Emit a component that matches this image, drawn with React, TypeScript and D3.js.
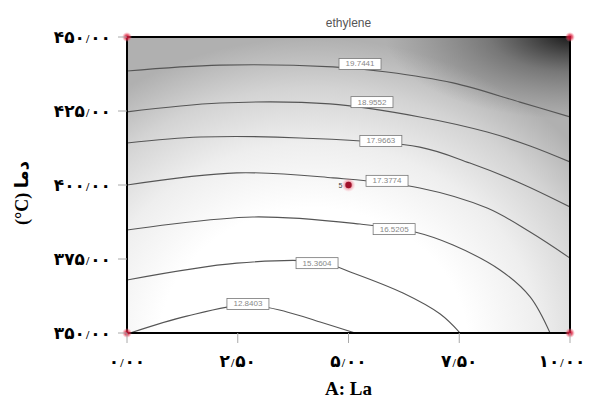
import React from "react";
import * as d3 from "d3";

const title = "ethylene";
const xTicks = [0, 2.5, 5, 7.5, 10];
const yTicks = [350, 375, 400, 425, 450];
const xTitle = "A: La";
const yTitle = "(°C) دما";

// contour lines (La, temperature)
const contour1 = [[0, 438.5], [2.1, 440.5], [4.65, 439.9], [5.87, 438.2], [7.36, 434.5], [8.87, 428.0], [10, 423.0]];
const contour2 = [[0, 424.7], [2.1, 427.7], [4.58, 427.4], [6.61, 423.0], [8.13, 417.9], [9.1, 413.2], [10, 407.8]];
const contour3 = [[0, 414.2], [1.65, 416.2], [3.91, 415.9], [6.61, 412.8], [7.74, 407.4], [8.87, 400.7], [10, 392.6]];
const contour4 = [[0, 400.0], [2.48, 404.1], [4.65, 402.4], [6.61, 399.0], [8.13, 392.2], [9.1, 384.1], [10, 375.3]];
const contour5 = [[0, 384.8], [2.84, 389.2], [5.26, 386.8], [6.5, 384.1], [7.36, 379.7], [8.42, 371.3], [9.1, 362.2], [9.55, 350]];
const contour6 = [[0, 367.9], [2.48, 373.6], [4.36, 374.0], [5.1, 370.3], [6.23, 363.5], [7.07, 356.4], [7.52, 350]];
const contour7 = [[0.07, 350], [1.35, 355.7], [2.73, 359.5], [3.61, 357.1], [4.36, 353.7], [5.15, 350]];
const contours = [contour1, contour2, contour3, contour4, contour5, contour6, contour7];

const contourLabels = ["19.7441", "18.9552", "17.9663", "17.3774", "16.5205", "15.3604", "12.8403"];
const labelLa = [5.26, 5.53, 5.73, 5.87, 6.03, 4.29, 2.73];
const labelT = [440.9, 428.0, 414.9, 401.4, 385.1, 373.6, 359.8];

const designLa = [0, 10, 0, 10];
const designT = [450, 450, 350, 350];
const centerPoint = [5, 400];
const centerReps = "5";

const W = 595, H = 403;
const L = 127, R = 570, T = 37, B = 333;

const faDigits = (s: string) => s.replace(/[0-9]/g, (d) => "۰۱۲۳۴۵۶۷۸۹"[+d]);

function FaNum({ v }: { v: number }) {
  const [a, b] = v.toFixed(2).split(".");
  return (
    <>
      <tspan>{faDigits(a)}</tspan>
      <tspan fontSize={12} dx={1} dy={2}>/</tspan>
      <tspan dx={1} dy={-2}>{faDigits(b)}</tspan>
    </>
  );
}

export default function App() {
  const x = d3.scaleLinear().domain([0, 10]).range([L, R]);
  const y = d3.scaleLinear().domain([350, 450]).range([B, T]);
  const line = d3
    .line<number[]>()
    .x((d) => x(d[0]))
    .y((d) => y(d[1]))
    .curve(d3.curveCatmullRom.alpha(0.5));

  const font = "'Times New Roman', 'Liberation Serif', 'DejaVu Serif', 'DejaVu Sans', serif";

  return (
    <svg width={W} height={H} style={{ position: "absolute", left: 0, top: 0, background: "#fff" }}>
      <defs>
        <radialGradient id="base" cx="0.5" cy="0.5" r="0.5">
          <stop offset="0" stopColor="#ffffff" />
          <stop offset="0.45" stopColor="#ffffff" />
          <stop offset="0.66" stopColor="#eeeeee" />
          <stop offset="0.84" stopColor="#d3d3d3" />
          <stop offset="1" stopColor="#b0b0b0" />
        </radialGradient>
        <radialGradient id="dark" cx="0.5" cy="0.5" r="0.5">
          <stop offset="0" stopColor="#000" stopOpacity="0.9" />
          <stop offset="0.45" stopColor="#222" stopOpacity="0.4" />
          <stop offset="1" stopColor="#444" stopOpacity="0" />
        </radialGradient>
        <radialGradient id="redglow" cx="0.5" cy="0.5" r="0.5">
          <stop offset="0" stopColor="#c0002a" stopOpacity="1" />
          <stop offset="0.5" stopColor="#e0304a" stopOpacity="0.7" />
          <stop offset="1" stopColor="#ff8090" stopOpacity="0" />
        </radialGradient>
        <clipPath id="plot">
          <rect x={L} y={T} width={R - L} height={B - T} />
        </clipPath>
      </defs>

      <g clipPath="url(#plot)">
        <rect x={L} y={T} width={R - L} height={B - T} fill="#b0b0b0" />
        <ellipse cx={x(4.2)} cy={y(345)} rx={345} ry={310} fill="url(#base)" />
        <ellipse cx={x(10.1)} cy={y(451)} rx={190} ry={85} fill="url(#dark)" />
        {contours.map((c, i) => (
          <path key={i} d={line(c as any) || ""} fill="none" stroke="#555" strokeWidth={1.1} />
        ))}
        {contourLabels.map((t, i) => (
          <g key={i} transform={`translate(${x(labelLa[i])},${y(labelT[i])})`}>
            <rect x={-21} y={-5.5} width={42} height={11} fill="#fff" stroke="#777" strokeWidth={0.8} />
            <text
              textAnchor="middle"
              dominantBaseline="central"
              fontSize={8}
              fill="#888"
              fontFamily="Arial, 'Liberation Sans', sans-serif"
            >
              {t}
            </text>
          </g>
        ))}
        <circle cx={x(centerPoint[0])} cy={y(centerPoint[1])} r={7} fill="url(#redglow)" opacity={0.6} />
        <circle cx={x(centerPoint[0])} cy={y(centerPoint[1])} r={3.2} fill="#a0102a" />
        <text
          x={x(centerPoint[0]) - 6}
          y={y(centerPoint[1])}
          textAnchor="end"
          dominantBaseline="central"
          fontSize={7}
          fill="#444"
          fontFamily="Arial, sans-serif"
        >
          {centerReps}
        </text>
      </g>

      {/* frame */}
      <rect x={L} y={T} width={R - L} height={B - T} fill="none" stroke="#000" strokeWidth={2} />

      {/* design points */}
      {designLa.map((v, i) => (
        <circle key={i} cx={x(v)} cy={y(designT[i])} r={5} fill="url(#redglow)" />
      ))}

      {/* y ticks */}
      {yTicks.map((v) => (
        <g key={v}>
          <line x1={L - 9} x2={L} y1={y(v)} y2={y(v)} stroke="#aaa" strokeWidth={1} />
          <text
            x={111}
            y={y(v)}
            textAnchor="end"
            dominantBaseline="central"
            fontSize={17}
            fontWeight="bold"
            fontFamily={font}
            fill="#000"
          >
            <FaNum v={v} />
          </text>
        </g>
      ))}

      {/* x ticks */}
      {xTicks.map((v) => (
        <g key={v}>
          <line x1={x(v)} x2={x(v)} y1={B} y2={B + 10} stroke="#aaa" strokeWidth={1} />
          <text
            x={v === 10 ? x(v) - 8 : x(v)}
            y={361}
            textAnchor="middle"
            dominantBaseline="central"
            fontSize={17}
            fontWeight="bold"
            fontFamily={font}
            fill="#000"
          >
            <FaNum v={v} />
          </text>
        </g>
      ))}

      <text
        x={(L + R) / 2}
        y={T - 10}
        textAnchor="middle"
        fontSize={12}
        fill="#555"
        fontFamily="Arial, 'Liberation Sans', sans-serif"
      >
        {title}
      </text>

      <text
        x={x(5)}
        y={388}
        textAnchor="middle"
        dominantBaseline="central"
        fontSize={19}
        fontWeight="bold"
        fontFamily={font}
        fill="#000"
      >
        {xTitle}
      </text>

      <text
        transform={`translate(22,${(T + B) / 2 + 8}) rotate(-90)`}
        textAnchor="middle"
        dominantBaseline="central"
        fontSize={18}
        fontWeight="bold"
        fontFamily={font}
        fill="#000"
      >
        {yTitle}
      </text>
    </svg>
  );
}
